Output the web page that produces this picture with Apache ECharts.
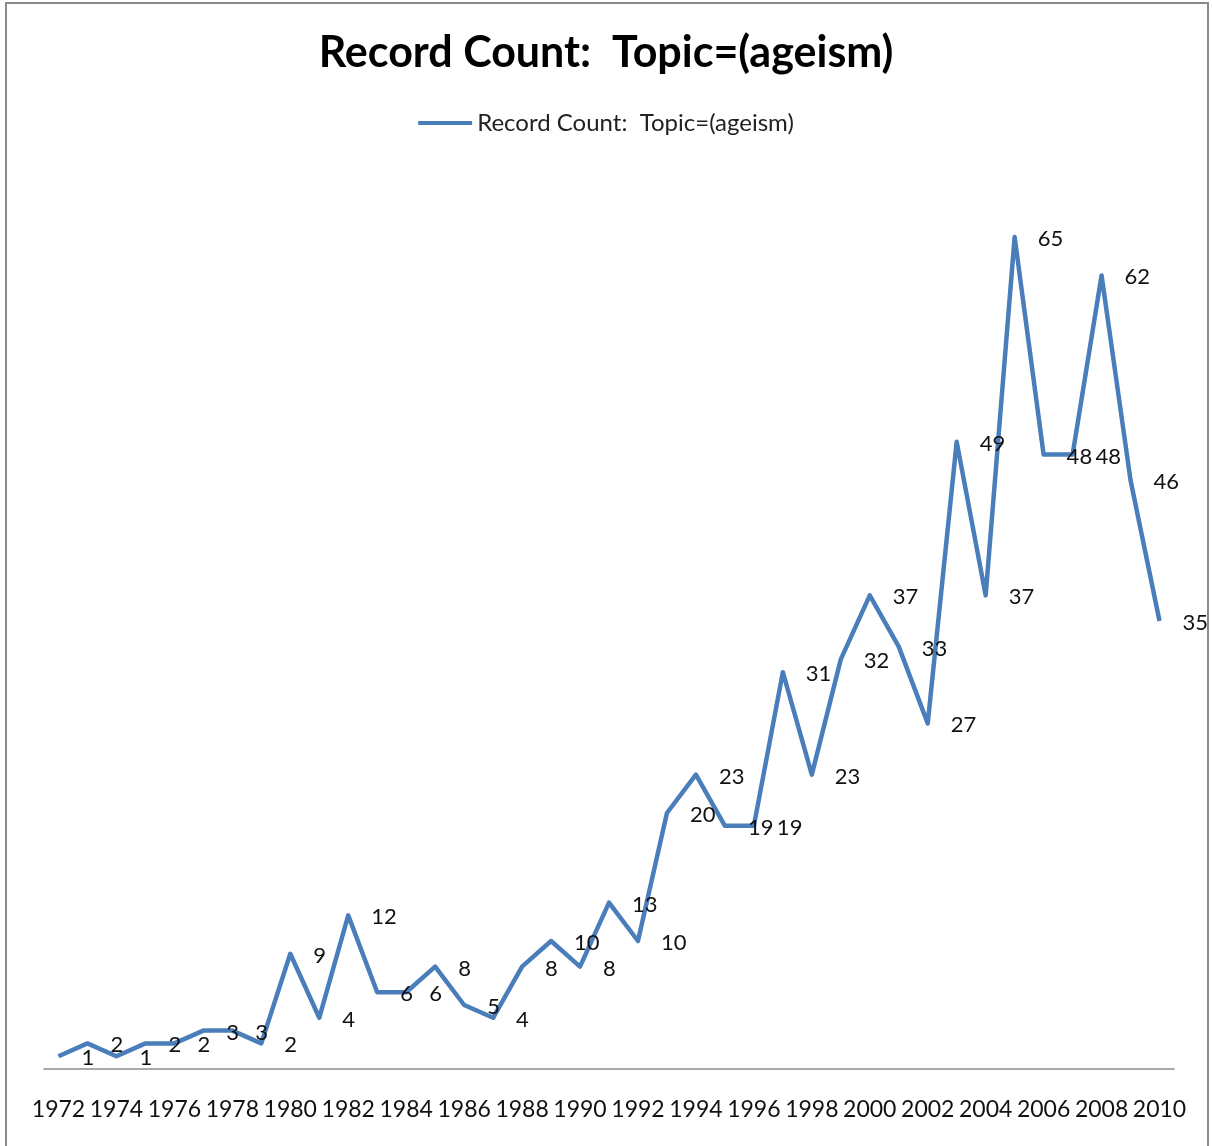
<!DOCTYPE html>
<html>
<head>
<meta charset="utf-8">
<title>Record Count: Topic=(ageism)</title>
<script src="https://cdn.jsdelivr.net/npm/echarts@6/dist/echarts.min.js"></script>
<style>
  html, body { margin: 0; padding: 0; background: #fff; }
  #chart { width: 1212px; height: 1146px; }
</style>
</head>
<body>
<div id="chart"></div>
<script>
// 年份（类目轴）
const years = [
  '1972', '1973', '1974', '1975', '1976', '1977', '1978', '1979', '1980', '1981',
  '1982', '1983', '1984', '1985', '1986', '1987', '1988', '1989', '1990', '1991',
  '1992', '1993', '1994', '1995', '1996', '1997', '1998', '1999', '2000', '2001',
  '2002', '2003', '2004', '2005', '2006', '2007', '2008', '2009', '2010'
]
// 每年记录数
const recordCounts = [
  1, 2, 1, 2, 2, 3, 3, 2, 9, 4,
  12, 6, 6, 8, 5, 4, 8, 10, 8, 13,
  10, 20, 23, 19, 19, 31, 23, 32, 37, 33,
  27, 49, 37, 65, 48, 48, 62, 46, 35
]

const seriesName = 'Record Count:  Topic=(ageism)'
const fontFamily = 'Lato, "Open Sans", sans-serif'

const chart = echarts.init(document.getElementById('chart'))

const option = {
  animation: false,
  textStyle: { fontFamily },
  title: {
    text: seriesName,
    left: 'center',
    top: 27,
    textStyle: { fontSize: 43, fontWeight: 'bold', color: '#000', fontFamily }
  },
  legend: {
    data: [seriesName],
    top: 106,
    left: 'center',
    itemWidth: 54,
    itemHeight: 4,
    itemGap: 5,
    icon: 'rect',
    textStyle: { fontSize: 24, color: '#222', fontFamily }
  },
  grid: {
    left: 44,
    right: 38,
    top: 173,
    bottom: 77,
    containLabel: false
  },
  xAxis: {
    type: 'category',
    data: years,
    boundaryGap: true,
    axisLine: { lineStyle: { color: '#8c8c8c', width: 1.5 } },
    axisTick: { show: false },
    axisLabel: {
      interval: 1,
      margin: 29,
      fontSize: 23,
      color: '#111',
      fontFamily
    }
  },
  yAxis: {
    type: 'value',
    min: 0,
    max: 70,
    show: false,
    splitLine: { show: false }
  },
  series: [
    {
      name: seriesName,
      type: 'line',
      data: recordCounts,
      symbol: 'circle',
      symbolSize: 0,
      showSymbol: true,
      lineStyle: { color: '#4a7ebb', width: 4.5, join: 'round' },
      itemStyle: { color: '#4a7ebb' },
      label: {
        show: true,
        position: 'right',
        distance: 23,
        offset: [0, 2],
        fontSize: 22,
        color: '#111',
        fontFamily
      }
    }
  ],
  graphic: [
    {
      type: 'rect',
      silent: true,
      shape: { x: 6, y: 3, width: 1202, height: 1170 },
      style: { fill: 'none', stroke: '#8a8a8a', lineWidth: 2 }
    }
  ]
}

chart.setOption(option)
</script>
</body>
</html>
